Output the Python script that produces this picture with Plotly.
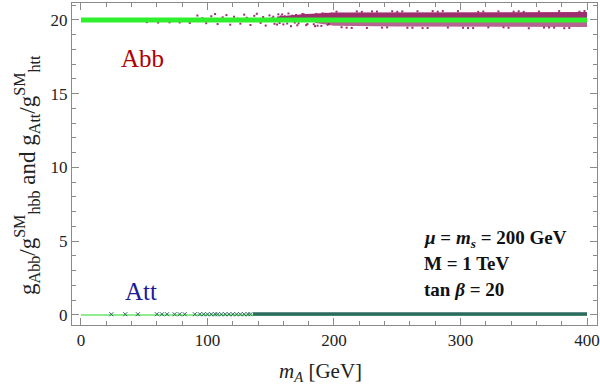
import plotly.graph_objects as go

# ---------------- data ----------------
line_x = [0, 400]
abb_line_y = [20, 20]
att_line_y = [0, 0]

# sparse Abb points
abb_x = [52, 61, 70, 78, 86, 92, 96, 99, 103, 106, 108, 112, 115, 118, 121, 124, 126, 129, 131, 134,
         137, 139, 142, 144, 146, 149, 151, 153, 156, 158, 160, 162, 164, 166, 168, 170, 172, 174, 176, 178,
         180, 182, 184, 186, 188, 190, 192, 194, 196, 198,
         152, 155, 159, 163, 167, 171, 175, 179, 183, 187, 191, 195, 199, 161, 169, 177, 185, 193, 157, 173,
         202, 210, 218, 226, 234, 242, 250, 258, 266, 274, 282, 290, 298, 306, 314, 322, 330, 338, 346, 354,
         362, 370, 378, 386, 394, 206, 222, 238, 254, 270, 286, 302, 318, 334, 350, 366, 382, 398, 214, 246,
         278, 310, 342, 374, 230, 262, 294, 326, 358, 390]
abb_y = [19.85, 19.82, 19.84, 19.83, 19.80, 20.30, 20.12, 19.78, 20.25, 20.40, 19.72, 20.18, 20.33, 19.68, 20.22, 20.08, 19.75, 20.36, 20.15, 19.66,
         20.28, 20.42, 19.80, 20.20, 19.62, 20.31, 20.11, 19.74, 20.38, 20.24, 19.70, 20.16, 20.44, 19.58, 20.27, 20.34, 19.77, 20.21, 20.39, 19.65,
         20.30, 20.13, 19.71, 20.41, 20.26, 19.60, 20.35, 20.19, 19.73, 20.43,
         20.22, 19.69, 20.37, 19.76, 20.29, 19.64, 20.40, 19.72, 20.33, 19.61, 20.45, 19.67, 20.36, 20.25, 19.82, 20.31, 19.58, 20.42, 19.79, 20.17,
         20.56, 19.48, 20.58, 19.46, 20.57, 19.50, 20.55, 19.47, 20.59, 19.46, 20.56, 19.49, 20.60, 19.45, 20.55, 19.50, 20.58, 19.47, 20.59, 19.44,
         20.57, 19.49, 20.60, 19.46, 20.56, 19.51, 20.55, 19.48, 20.58, 19.45, 20.60, 19.47, 20.57, 19.50, 20.55, 19.49,
         19.44, 20.61, 19.46, 20.59, 20.60, 19.45, 20.56, 19.48, 20.58, 19.47]

# dense Abb band envelopes
band_x = [155, 175, 200, 250, 300, 350, 400]
band_up_hi = [20.24, 20.38, 20.50, 20.52, 20.53, 20.53, 20.54]
band_up_lo = [20.10, 20.06, 20.04, 20.04, 20.04, 20.04, 20.04]
band_dn_x = [185, 200, 250, 300, 350, 400]
band_dn_hi = [19.94, 19.94, 19.94, 19.94, 19.94, 19.94]
band_dn_lo = [19.80, 19.60, 19.55, 19.53, 19.53, 19.52]

# sparse Att points
att_x = [24, 35, 45, 60, 64, 68, 74, 78, 82, 90, 94, 97, 100, 103, 106, 108, 111, 114, 117,
         120, 123, 126, 129, 132, 134]
att_y = [0.05] * len(att_x)
att_band_x = [136, 400]
att_band_y = [0.06, 0.06]

# ---------------- figure ----------------
purple = "#9E2F6E"
teal = "#2C6A60"
fig = go.Figure()

fig.add_trace(go.Scatter(x=band_x, y=band_up_lo, mode="lines", line=dict(width=0), hoverinfo="skip"))
fig.add_trace(go.Scatter(x=band_x, y=band_up_hi, mode="lines", line=dict(width=0),
                         fill="tonexty", fillcolor=purple, hoverinfo="skip"))
fig.add_trace(go.Scatter(x=band_dn_x, y=band_dn_lo, mode="lines", line=dict(width=0), hoverinfo="skip"))
fig.add_trace(go.Scatter(x=band_dn_x, y=band_dn_hi, mode="lines", line=dict(width=0),
                         fill="tonexty", fillcolor="rgba(158,47,110,0.75)", hoverinfo="skip"))
fig.add_trace(go.Scatter(x=abb_x, y=abb_y, mode="markers",
                         marker=dict(symbol="square", size=2, color=purple, line=dict(width=0))))
fig.add_trace(go.Scatter(x=line_x, y=abb_line_y, mode="lines", line=dict(color="#2EF02E", width=5)))

fig.add_trace(go.Scatter(x=line_x, y=att_line_y, mode="lines", line=dict(color="#8EEB8E", width=2)))
fig.add_trace(go.Scatter(x=att_x, y=att_y, mode="markers",
                         marker=dict(symbol="x-thin", size=4, color=teal, line=dict(width=1, color=teal))))
fig.add_trace(go.Scatter(x=att_band_x, y=att_band_y, mode="lines", line=dict(color=teal, width=3.5)))

serif = "Liberation Serif, Times New Roman, serif"
axis_common = dict(showgrid=False, zeroline=False, showline=True, linecolor="#8a8a8a", linewidth=1,
                   mirror="allticks", ticks="inside", tickcolor="#8a8a8a", ticklen=7, automargin=False,
                   tickfont=dict(family=serif, size=17, color="#222"),
                   minor=dict(ticks="inside", ticklen=4, tickcolor="#8a8a8a"))

fig.update_xaxes(range=[-7.1, 407.9], tickvals=[0, 100, 200, 300, 400], minor_dtick=20, **axis_common)
fig.update_yaxes(range=[-0.68, 21.15], tickvals=[0, 5, 10, 15, 20], minor_dtick=1, **axis_common)

# axis titles
fig.add_annotation(xref="paper", yref="paper", x=0.4724, y=-0.145, xanchor="center", yanchor="middle",
                   showarrow=False, text="<i>m</i><sub><i>A</i></sub> [GeV]",
                   font=dict(family=serif, size=21, color="#222"))
fig.add_annotation(xref="paper", yref="paper", x=-0.0857, y=0.466, xanchor="center", yanchor="middle",
                   showarrow=False, textangle=-90,
                   text="g<sub>Abb</sub>/g<sup>SM</sup><sub>hbb</sub> and g<sub>Att</sub>/g<sup>SM</sup><sub>htt</sub>",
                   font=dict(family=serif, size=23, color="#222"))

fig.add_annotation(x=49, y=17.42, text="Abb", showarrow=False,
                   font=dict(family=serif, size=25, color="#B00000"))
fig.add_annotation(x=47.5, y=1.56, text="Att", showarrow=False,
                   font=dict(family=serif, size=25, color="#1A1A99"))
for txt, yy in [("<b><i>μ</i> = <i>m</i><sub><i>s</i></sub> = 200 GeV</b>", 5.15),
                ("<b>M = 1 TeV</b>", 3.46),
                ("<b>tan <i>β</i> = 20</b>", 1.72)]:
    fig.add_annotation(x=269.6, y=yy, text=txt, showarrow=False, xanchor="left", yanchor="middle",
                       font=dict(family=serif, size=19, color="#111"))

fig.update_layout(width=600, height=388, margin=dict(l=72, r=3, t=3, b=63),
                  paper_bgcolor="white", plot_bgcolor="white", showlegend=False)

fig.write_html("out.html", config={"displayModeBar": False},
               post_script="document.body.style.margin='0';document.body.style.overflow='hidden';")
